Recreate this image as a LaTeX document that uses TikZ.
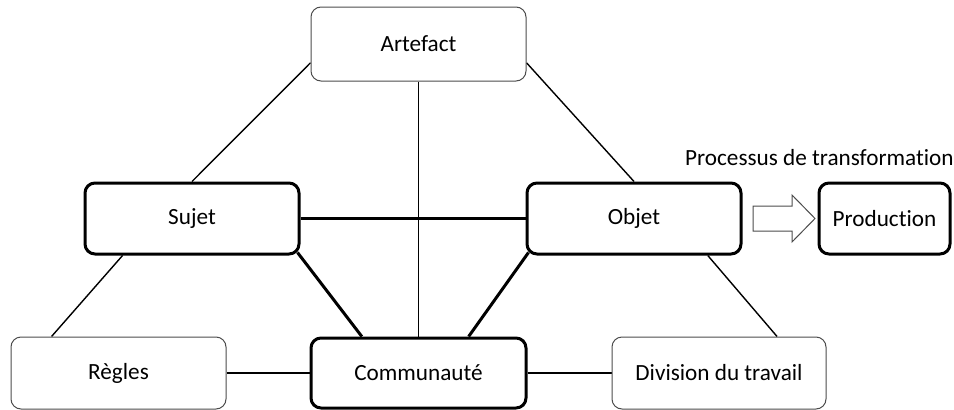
\documentclass[tikz,border=0pt]{standalone}
\usepackage{fontspec}
\setmainfont[Ligatures=NoCommon]{Carlito}
\usetikzlibrary{calc,backgrounds}
\begin{document}
\begin{tikzpicture}[x=1pt,y=-1pt,
  box/.style={draw=black!70,line width=1pt,rounded corners=10pt,fill=white,
    inner sep=0pt,font=\fontsize{23.2}{27}\selectfont},
  thickbox/.style={box,draw=black,line width=3pt},
  thin/.style={line width=1.4pt},
  thick/.style={line width=3pt},
]
\useasboundingbox (0,0) rectangle (954,410);
\node[box,minimum width=215pt,minimum height=74pt] (art) at (418.5,44) {Artefact};
\node[thickbox,minimum width=214pt,minimum height=71pt] (suj) at (192,218.5) {Sujet};
\node[thickbox,minimum width=214pt,minimum height=71pt] (obj) at (634,218.5) {Objet};
\node[thickbox,minimum width=131pt,minimum height=71pt] (prod) at (884.5,218.5) {Production};
\node[box,minimum width=215pt,minimum height=72pt] (reg) at (118.5,373) {Règles};
\node[thickbox,minimum width=215pt,minimum height=70pt] (com) at (418.5,373) {Communauté};
\node[box,minimum width=214pt,minimum height=72pt] (div) at (719,373) {Division du travail};
\node[anchor=base west,inner sep=0pt,font=\fontsize{23.2}{27}\selectfont] (proc) at (685,165) {Processus de transformation};
\begin{scope}[on background layer]
\draw[thin] ($(art.south west)!0.25!(art.north west)$) -- (suj.north);
\draw[thin] ($(art.south east)!0.25!(art.north east)$) -- (obj.north);
\draw[thin] (art.south) -- (com.north);
\draw[thick] (suj.east) -- (obj.west);
\draw[thick] ($(suj.south east)+(-3,-3)$) -- ($(com.north west)!0.24!(com.north east)$);
\draw[thick] ($(obj.south west)+(3,-3)$) -- ($(com.north west)!0.73!(com.north east)$);
\draw[thin] ($(suj.south west)!0.18!(suj.south east)$) -- ($(reg.north west)!0.19!(reg.north east)$);
\draw[thin] ($(obj.south west)!0.84!(obj.south east)$) -- ($(div.north west)!0.77!(div.north east)$);
\draw[thin] (reg.east) -- (com.west);
\draw[thin] (com.east) -- (div.west);
\end{scope}
\draw[draw=black!70,line width=1pt,fill=white]
  (753,206) -- (792,206) -- (792,195) -- (815,218.5) -- (792,242) -- (792,231) -- (753,231) -- cycle;
\end{tikzpicture}
\end{document}
